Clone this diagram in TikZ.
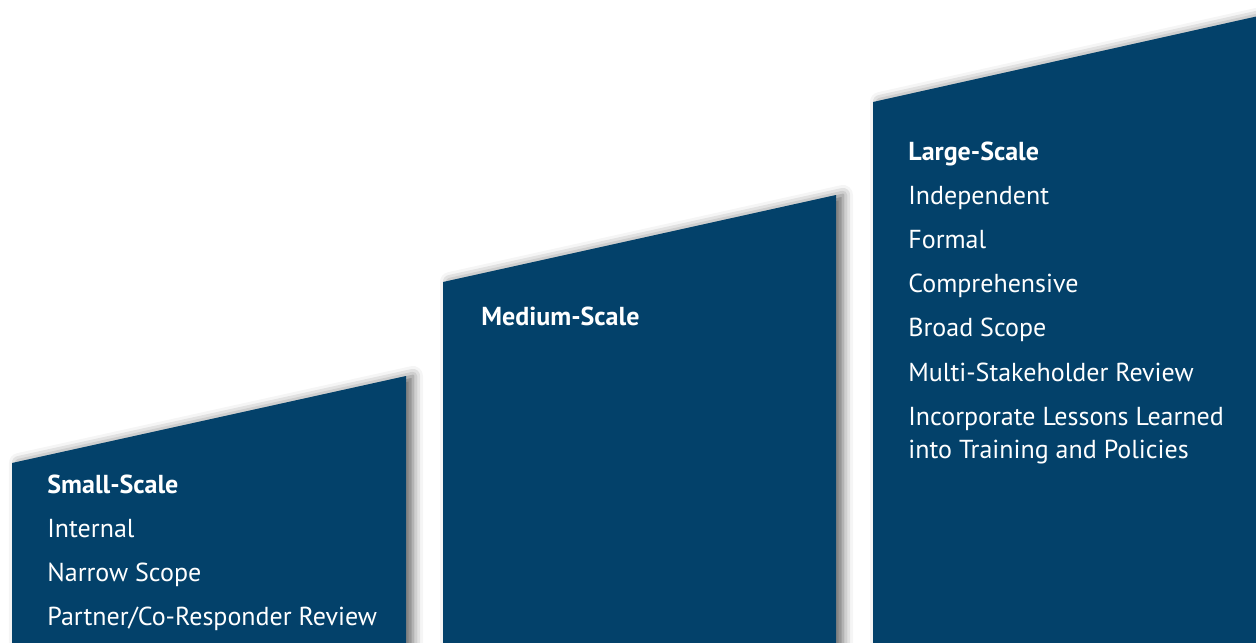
\documentclass[tikz,border=0pt]{standalone}
\usepackage{fontspec}
\setmainfont{PT Sans}
\usetikzlibrary{shadows.blur}

\definecolor{stepblue}{RGB}{3,65,106}

\tikzset{
  stair/.style={fill=stepblue, blur shadow={shadow xshift=3.5pt, shadow yshift=0pt,
    shadow blur radius=5pt, shadow opacity=60}},
  lbl/.style={anchor=base west, inner sep=0pt, text=white, font=\fontsize{13}{16}\selectfont},
  head/.style={lbl, font=\fontsize{13}{16}\selectfont\bfseries}
}

\begin{document}
\begin{tikzpicture}[x=0.5pt, y=-0.5pt]
\useasboundingbox (0,0) rectangle (1256,642);

\fill[stair] (12,463) -- (406,376) -- (406,680) -- (12,680) -- cycle;
\fill[stair] (443,282) -- (836,195) -- (836,680) -- (443,680) -- cycle;
\fill[stair] (873,102) -- (1290,9) -- (1290,680) -- (873,680) -- cycle;

\node[head] (small) at (47,493) {Small-Scale};
\node[lbl] (s1) at (47,537) {Internal};
\node[lbl] (s2) at (47,581) {Narrow Scope};
\node[lbl] (s3) at (47,625) {Partner/Co-Responder Review};

\node[head] (medium) at (481,325) {Medium-Scale};

\node[head] (large) at (908,160) {Large-Scale};
\node[lbl] (l1) at (908,204) {Independent};
\node[lbl] (l2) at (908,248) {Formal};
\node[lbl] (l3) at (908,292) {Comprehensive};
\node[lbl] (l4) at (908,336) {Broad Scope};
\node[lbl] (l5) at (908,381) {Multi-Stakeholder Review};
\node[lbl] (l6) at (908,425) {Incorporate Lessons Learned};
\node[lbl] (l7) at (908,458) {into Training and Policies};
\end{tikzpicture}
\end{document}
